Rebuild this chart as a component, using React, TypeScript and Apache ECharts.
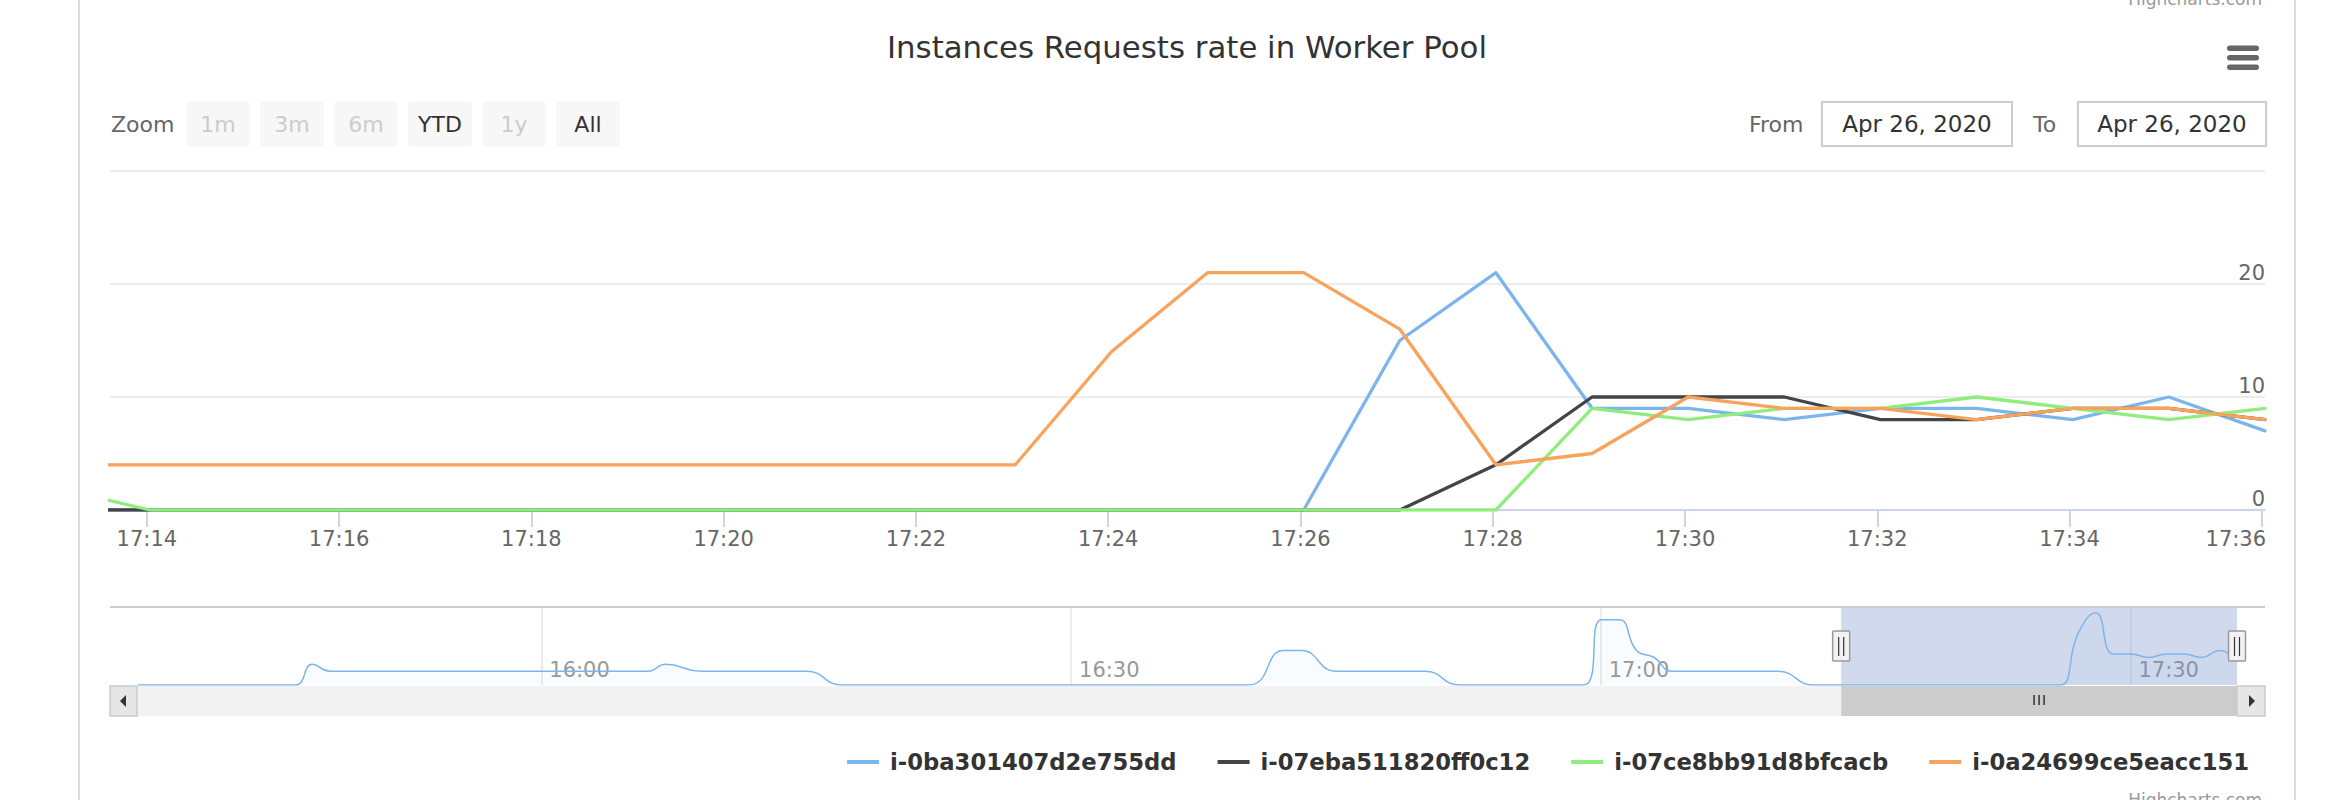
import React, { useEffect, useRef } from 'react';
import * as echarts from 'echarts';

const FONT = '"DejaVu Sans", "Lucida Grande", sans-serif';

const TITLE = 'Instances Requests rate in Worker Pool';
const SERIES_NAMES = ['i-0ba301407d2e755dd', 'i-07eba511820ff0c12', 'i-07ce8bb91d8bfcacb', 'i-0a24699ce5eacc151'];
const SERIES_COLORS = ['#7cb5ec', '#434348', '#90ed7d', '#f7a35c'];

// samples, one per minute (taken at hh:mm:02)
const MINUTES = ['17:13', '17:14', '17:15', '17:16', '17:17', '17:18', '17:19', '17:20', '17:21', '17:22', '17:23', '17:24',
  '17:25', '17:26', '17:27', '17:28', '17:29', '17:30', '17:31', '17:32', '17:33', '17:34', '17:35', '17:36'];
const SAMPLE_SECOND = '02';
const BLUE = [0, 0, 0, 0, 0, 0, 0, 0, 0, 0, 0, 0, 0, 0, 15, 21, 9, 9, 8, 9, 9, 8, 10, 7];
const BLACK = [0, 0, 0, 0, 0, 0, 0, 0, 0, 0, 0, 0, 0, 0, 0, 4, 10, 10, 10, 8, 8, 9, 9, 8];
const GREEN = [2, 0, 0, 0, 0, 0, 0, 0, 0, 0, 0, 0, 0, 0, 0, 0, 9, 8, 9, 9, 10, 9, 8, 9];
const ORANGE = [4, 4, 4, 4, 4, 4, 4, 4, 4, 4, 4, 14, 21, 21, 16, 4, 5, 10, 9, 9, 8, 9, 9, 8];

// earlier history of the first series, shown only in the navigator
const NAV_HISTORY_TIMES = ['15:37', '15:46', '15:47', '15:48', '16:06', '16:07', '16:09', '16:15', '16:17', '16:40', '16:42',
  '16:43', '16:45', '16:50', '16:52', '16:59', '17:00', '17:01', '17:02', '17:03', '17:04', '17:10', '17:12'];
const NAV_HISTORY_VALUES = [0, 0, 6, 4, 4, 6, 4, 4, 0, 0, 10, 10, 4, 4, 0, 0, 19, 19, 10, 8, 4, 4, 0];

const VIEW_RANGE = ['17:13:37', '17:36:02'];
const NAV_RANGE = ['15:37:13', '17:36:02'];
const X_TICKS = ['17:14', '17:16', '17:18', '17:20', '17:22', '17:24', '17:26', '17:28', '17:30', '17:32', '17:34', '17:36'];
const NAV_TICKS = ['16:00', '16:30', '17:00', '17:30'];
const Y_MIN = 0;
const Y_MAX = 30;
const Y_STEP = 10;

const ZOOM_BUTTONS = ['1m', '3m', '6m', 'YTD', '1y', 'All'];
const ZOOM_ENABLED = [false, false, false, true, false, true];
const DATE_FROM = 'Apr 26, 2020';
const DATE_TO = 'Apr 26, 2020';

const T = (s: string) => {
  const [h, m, sec] = s.split(':').map(Number);
  return Date.UTC(2020, 3, 26, h, m, sec || 0);
};
const pad = (n: number) => (n < 10 ? '0' + n : '' + n);
const fmt = (v: number) => {
  const d = new Date(v);
  return pad(d.getUTCHours()) + ':' + pad(d.getUTCMinutes());
};

export default function App() {
  const ref = useRef<HTMLDivElement>(null);
  useEffect(() => {
    const chart = echarts.init(ref.current!, null, { renderer: 'svg' });
    const seriesValues = [BLUE, BLACK, GREEN, ORANGE];
    const lastTick = T(X_TICKS[X_TICKS.length - 1]);
    const navData = [
      ...NAV_HISTORY_TIMES.map((t, i) => [T(t + ':' + SAMPLE_SECOND), NAV_HISTORY_VALUES[i]]),
      ...MINUTES.map((t, i) => [T(t + ':' + SAMPLE_SECOND), BLUE[i]]),
    ];
    const labelFont = { fontFamily: FONT, fontSize: 21 };

    chart.setOption({
      animation: false,
      backgroundColor: '#ffffff',
      textStyle: { fontFamily: FONT },
      grid: [
        { left: 110, width: 2155, top: 171, height: 339 },
        { left: 139, width: 2098, top: 607, height: 78 },
      ],
      legend: {
        data: SERIES_NAMES,
        right: 81,
        top: 750,
        padding: 0,
        icon: 'rect',
        itemWidth: 32,
        itemHeight: 4,
        itemGap: 41,
        selectedMode: false,
        textStyle: { fontFamily: FONT, fontSize: 22.7, fontWeight: 'bold', color: '#333333', padding: [0, 0, 0, 6], lineHeight: 24 },
      },
      xAxis: [
        {
          type: 'value', gridIndex: 0, min: T(VIEW_RANGE[0]), max: T(VIEW_RANGE[1]),
          axisLine: { show: true, lineStyle: { color: '#ccd6eb', width: 2 } },
          axisTick: { show: true, customValues: X_TICKS.map(T), length: 17, lineStyle: { color: '#ccd6eb', width: 2 } },
          axisLabel: {
            customValues: X_TICKS.map(T), ...labelFont, color: '#666666', margin: 17, lineHeight: 24,
            formatter: (v: number) => (v === lastTick ? '{r|' + fmt(v) + '}' : fmt(v)),
            rich: { r: { ...labelFont, color: '#666666', lineHeight: 24, padding: [0, 52, 0, 0] } },
          },
          splitLine: { show: false },
        },
        {
          type: 'value', gridIndex: 1, min: T(NAV_RANGE[0]), max: T(NAV_RANGE[1]),
          axisLine: { show: false },
          axisTick: { show: false, customValues: NAV_TICKS.map(T) },
          axisLabel: {
            customValues: NAV_TICKS.map(T), inside: true, align: 'left', verticalAlign: 'bottom', margin: 3,
            padding: [0, 0, 0, 8], lineHeight: 24, ...labelFont, color: '#999999', formatter: (v: number) => fmt(v),
          },
          splitLine: { show: true, lineStyle: { color: '#e6e6e6', width: 1.5 } },
        },
      ],
      yAxis: [
        {
          type: 'value', gridIndex: 0, position: 'right', min: Y_MIN, max: Y_MAX, interval: Y_STEP,
          axisLine: { show: false }, axisTick: { show: false },
          axisLabel: { inside: true, align: 'right', verticalAlign: 'bottom', lineHeight: 23, margin: 0, showMaxLabel: false, ...labelFont, color: '#666666' },
          splitLine: { show: true, lineStyle: { color: '#e6e6e6', width: 1.7 } },
        },
        { type: 'value', gridIndex: 1, show: false, min: 0, max: (v: any) => v.max * 1.08 },
      ],
      series: [
        {
          name: 'navigator', type: 'line', xAxisIndex: 1, yAxisIndex: 1, data: navData, smooth: true, symbol: 'none',
          lineStyle: { color: '#7cb5ec', width: 1.5 }, itemStyle: { color: '#7cb5ec' },
          areaStyle: { color: 'rgba(124,181,236,0.06)' },
          markArea: {
            silent: true, label: { show: false }, itemStyle: { color: 'rgba(102,133,194,0.3)' },
            data: [[{ xAxis: T(VIEW_RANGE[0]) }, { xAxis: T(VIEW_RANGE[1]) }]],
          },
        },
        ...SERIES_NAMES.map((name, k) => ({
          name, type: 'line', xAxisIndex: 0, yAxisIndex: 0, symbol: 'none', showSymbol: false,
          data: MINUTES.map((t, i) => [T(t + ':' + SAMPLE_SECOND), seriesValues[k][i]]),
          lineStyle: { color: SERIES_COLORS[k], width: 3.3, join: 'round', cap: 'round' },
          itemStyle: { color: SERIES_COLORS[k] },
        })),
      ],
    });

    const px = (t: number) => chart.convertToPixel({ xAxisIndex: 1 }, t) as number;
    const x0 = px(T(VIEW_RANGE[0]));
    const x1 = px(T(VIEW_RANGE[1]));
    const txt = (text: string, x: number, y: number, size: number, fill: string, align = 'left', extra: any = {}) => ({
      type: 'text', z: 20, style: { text, x, y, fontFamily: FONT, fontSize: size, fill, align, verticalAlign: 'middle', ...extra },
    });

    const elements: any[] = [
      { type: 'line', z: 1, shape: { x1: 79, y1: 0, x2: 79, y2: 800 }, style: { stroke: '#dcdcdc', lineWidth: 2 } },
      { type: 'line', z: 1, shape: { x1: 2295, y1: 0, x2: 2295, y2: 800 }, style: { stroke: '#dcdcdc', lineWidth: 2 } },
      txt(TITLE, 1187, 47, 30.8, '#333333', 'center'),
      { type: 'text', z: 20, style: { text: 'Highcharts.com', x: 2262, y: 7, align: 'right', verticalAlign: 'bottom', fontFamily: FONT, fontSize: 17, fill: '#999999' } },
      { type: 'text', z: 20, style: { text: 'Highcharts.com', x: 2262, y: 791, align: 'right', verticalAlign: 'top', fontFamily: FONT, fontSize: 17, fill: '#999999' } },
      ...[45.5, 55, 64.5].map((y) => ({ type: 'rect', z: 20, shape: { x: 2227, y, width: 32, height: 5.5, r: 2.75 }, style: { fill: '#666666' } })),
      txt('Zoom', 111, 124, 22, '#666666'),
    ];
    ZOOM_BUTTONS.forEach((b, i) => {
      const bx = 186 + i * 74;
      elements.push({ type: 'rect', z: 19, shape: { x: bx, y: 102, width: 64, height: 44, r: 3 }, style: { fill: '#f7f7f7' } });
      elements.push(txt(b, bx + 32, 124, 22, ZOOM_ENABLED[i] ? '#333333' : '#cccccc', 'center'));
    });
    elements.push(txt('From', 1749, 124, 22, '#666666'));
    elements.push({ type: 'rect', z: 19, shape: { x: 1822, y: 102, width: 190, height: 44 }, style: { fill: '#ffffff', stroke: '#cccccc', lineWidth: 2 } });
    elements.push(txt(DATE_FROM, 1917, 124, 23, '#333333', 'center'));
    elements.push(txt('To', 2033, 124, 22, '#666666'));
    elements.push({ type: 'rect', z: 19, shape: { x: 2078, y: 102, width: 188, height: 44 }, style: { fill: '#ffffff', stroke: '#cccccc', lineWidth: 2 } });
    elements.push(txt(DATE_TO, 2172, 124, 23, '#333333', 'center'));

    // navigator outline and scrollbar
    elements.push({ type: 'line', z: 15, shape: { x1: 110, y1: 607, x2: 2265, y2: 607 }, style: { stroke: '#cccccc', lineWidth: 2 } });
    elements.push({ type: 'rect', z: 15, shape: { x: 110, y: 686, width: 2155, height: 30 }, style: { fill: '#f2f2f2' } });
    elements.push({ type: 'rect', z: 16, shape: { x: x0, y: 686, width: x1 - x0, height: 30 }, style: { fill: '#cccccc' } });
    [-5, 0, 5].forEach((d) => {
      const gx = (x0 + x1) / 2 + d;
      elements.push({ type: 'line', z: 17, shape: { x1: gx, y1: 695, x2: gx, y2: 705 }, style: { stroke: '#333333', lineWidth: 1.5 } });
    });
    elements.push({ type: 'rect', z: 17, shape: { x: 110, y: 686, width: 27, height: 30 }, style: { fill: '#e6e6e6', stroke: '#cccccc', lineWidth: 1.5 } });
    elements.push({ type: 'polygon', z: 18, shape: { points: [[120, 701], [126, 695], [126, 707]] }, style: { fill: '#333333' } });
    elements.push({ type: 'rect', z: 17, shape: { x: 2237, y: 686, width: 28, height: 30 }, style: { fill: '#e6e6e6', stroke: '#cccccc', lineWidth: 1.5 } });
    elements.push({ type: 'polygon', z: 18, shape: { points: [[2255, 701], [2249, 695], [2249, 707]] }, style: { fill: '#333333' } });

    // navigator handles
    [x0, x1].forEach((hx) => {
      elements.push({ type: 'rect', z: 18, shape: { x: hx - 8.5, y: 631, width: 17, height: 30, r: 1 }, style: { fill: '#f2f2f2', stroke: '#999999', lineWidth: 1.5 } });
      [-2.5, 2.5].forEach((d) => {
        elements.push({ type: 'line', z: 19, shape: { x1: hx + d, y1: 637, x2: hx + d, y2: 656 }, style: { stroke: '#333333', lineWidth: 1.2 } });
      });
    });

    chart.setOption({ graphic: elements });
    return () => chart.dispose();
  }, []);
  return <div ref={ref} style={{ position: 'absolute', left: 0, top: 0, width: 2330, height: 800, background: '#ffffff' }} />;
}
